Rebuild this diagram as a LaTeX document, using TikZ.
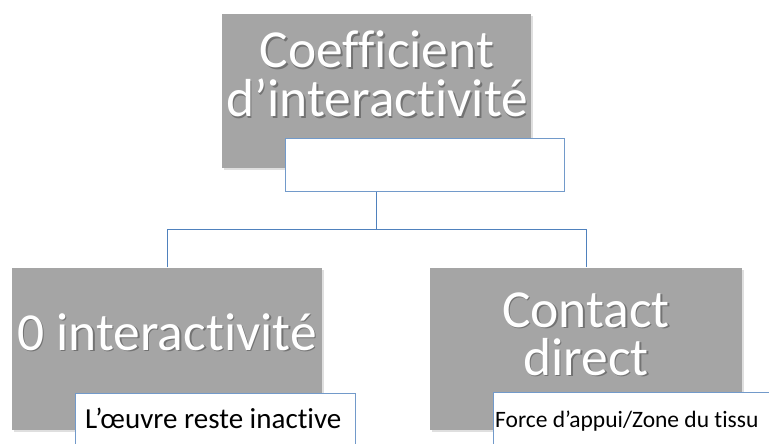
\documentclass[tikz,border=0pt]{standalone}
\usepackage{fontspec}
\setmainfont{Carlito}[RawFeature={-liga;-clig;-dlig}]
\usetikzlibrary{shadows}
\definecolor{boxgray}{HTML}{A5A5A5}
\definecolor{lineblue}{HTML}{4F81BD}
\tikzset{
  graybox/.style={draw=none, fill=boxgray, inner sep=0pt,
    drop shadow={opacity=0.25, shadow xshift=2pt, shadow yshift=-2pt}},
  whitebox/.style={draw=lineblue!80, fill=white, line width=1pt, inner sep=0pt},
  conn/.style={draw=lineblue, line width=1pt},
  bigtxt/.style={font=\fontsize{53.5}{50}\selectfont, text=white, inner sep=0pt, anchor=base},
  bigshadow/.style={font=\fontsize{53.5}{50}\selectfont, text=black, opacity=0.3, inner sep=0pt, anchor=base},
  smalltxt/.style={text=black, inner sep=0pt, anchor=base west}
}
\begin{document}
\begin{tikzpicture}[x=1pt,y=-1pt]
\useasboundingbox (0,0) rectangle (769,444);
% gray boxes
\path[graybox] (222,14) rectangle (531,168);
\node[inner sep=0pt] (top) at (376.5,91) {};
\path[graybox] (12,268) rectangle (322,430);
\node[inner sep=0pt] (left) at (167,268) {};
\path[graybox] (430,268) rectangle (742,430);
\node[inner sep=0pt] (right) at (586,268) {};
% texts top
\node[bigshadow] (t1s) at (378.5,69.5) {Coefficient};
\node[bigtxt] (t1) at (377,68) {Coefficient};
\node[bigshadow] (t2s) at (378.5,118.5) {d’interactivité};
\node[bigtxt] (t2) at (377,117) {d’interactivité};
% left text
\node[bigshadow] (l1s) at (168.5,351.5) {0 interactivité};
\node[bigtxt] (l1) at (167,350) {0 interactivité};
% right text
\node[bigshadow] (r1s) at (587.5,328.5) {Contact};
\node[bigtxt] (r1) at (586,327) {Contact};
\node[bigshadow] (r2s) at (587.5,376.5) {direct};
\node[bigtxt] (r2) at (586,375) {direct};
% white boxes
\path[whitebox] (285,138) rectangle (564,191);
\node[inner sep=0pt] (wtop) at (376.5,191) {};
\path[whitebox] (75,393) rectangle (355,450);
\node[smalltxt, font=\fontsize{29}{32}\selectfont] (wl) at (85,428) {L’œuvre reste inactive};
\path[whitebox] (493,392) rectangle (775,450);
\node[smalltxt, font=\fontsize{23.5}{28}\selectfont] (wr) at (495,427) {Force d’appui/Zone du tissu};
% connectors
\coordinate (j) at (376.5,229.5);
\draw[conn] (wtop) -- (j);
\draw[conn] (left) |- (j) -| (right);
\end{tikzpicture}
\end{document}
